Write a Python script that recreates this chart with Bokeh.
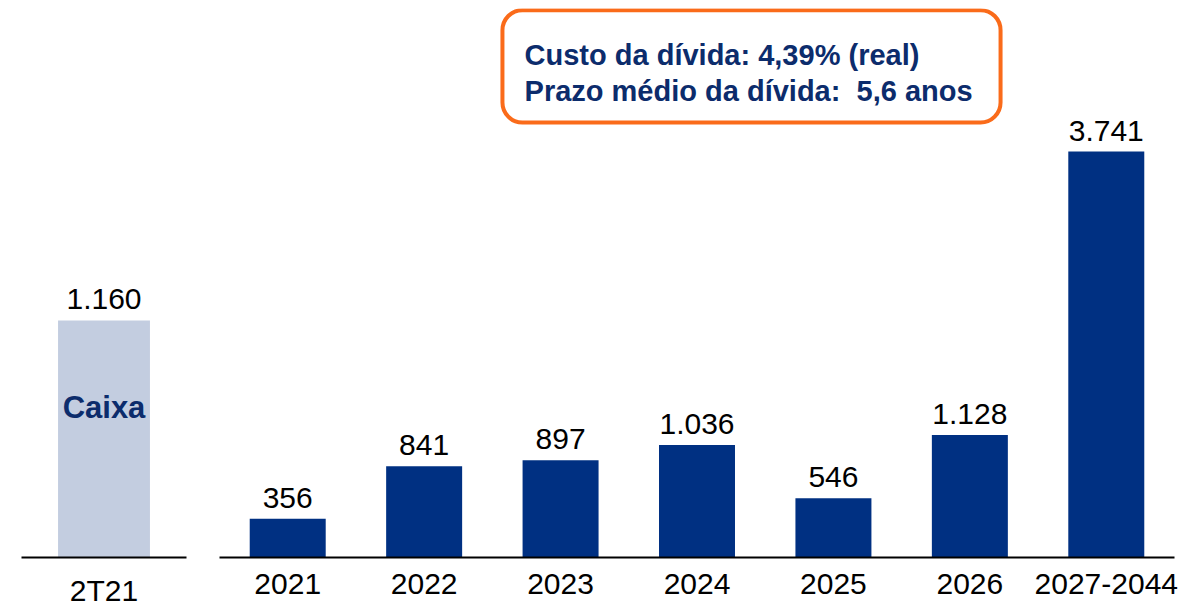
from bokeh.plotting import figure
from bokeh.models import ColumnDataSource, FactorRange, Range1d, LabelSet, Label, BoxAnnotation
from bokeh.layouts import row
from bokeh.core.properties import value
from bokeh.embed import file_html
from bokeh.resources import INLINE

# ---- data ----
cash_categories = ["2T21"]
cash_values = [1160]
cash_labels = ["1.160"]

debt_categories = ["2021", "2022", "2023", "2024", "2025", "2026", "2027-2044"]
debt_values = [356, 841, 897, 1036, 546, 1128, 3741]
debt_labels = ["356", "841", "897", "1.036", "546", "1.128", "3.741"]

box_lines = ["Custo da dívida: 4,39% (real)", "Prazo médio da dívida: \u00a05,6 anos"]
cash_note = "Caixa"

DARK = "#003082"
LIGHT = "#C3CDE0"
NAVY_TEXT = "#0C2C6C"
ORANGE = "#FA6B1A"
FONT = "Liberation Sans"


def style(p):
    p.xgrid.grid_line_color = None
    p.ygrid.grid_line_color = None
    p.outline_line_color = None
    p.background_fill_color = "white"
    p.border_fill_color = "white"
    ax = p.xaxis[0]
    ax.axis_line_color = "black"
    ax.axis_line_width = 2
    ax.major_tick_line_color = None
    ax.minor_tick_line_color = None
    ax.major_tick_out = 0
    ax.major_tick_in = 0
    ax.major_label_text_font = FONT
    ax.major_label_text_font_size = "30px"
    ax.major_label_text_color = "black"
    ax.major_label_standoff = 16


# ---- left panel: cash ----
src1 = ColumnDataSource(dict(x=cash_categories, top=cash_values, lab=cash_labels))
p1 = figure(x_range=FactorRange(*cash_categories, range_padding=0),
            y_range=Range1d(0, 2687),
            width=200, height=615, output_backend="svg", toolbar_location=None,
            y_axis_location=None, min_border_left=21, min_border_right=14,
            min_border_top=8, min_border_bottom=58)
p1.vbar(x="x", top="top", width=0.557, source=src1, fill_color=LIGHT, line_color=None)
p1.add_layout(LabelSet(x="x", y="top", text="lab", source=src1, y_offset=11,
                       text_align="center", text_baseline="alphabetic",
                       text_font=value(FONT), text_font_size="30px", text_color="black"))
p1.add_layout(Label(x=0.5, y=cash_values[0] * 0.633, text=cash_note, text_align="center",
                    text_baseline="middle", text_font=FONT, text_font_style="bold",
                    text_font_size="31px", text_color=NAVY_TEXT))
style(p1)

# ---- right panel: debt amortization ----
src2 = ColumnDataSource(dict(x=debt_categories, top=debt_values, lab=debt_labels))
p2 = figure(x_range=FactorRange(*debt_categories, range_padding=0),
            y_range=Range1d(0, 5060),
            width=998, height=615, output_backend="svg", toolbar_location=None,
            y_axis_location=None, min_border_left=19, min_border_right=24,
            min_border_top=8, min_border_bottom=58)
p2.vbar(x="x", top="top", width=0.557, source=src2, fill_color=DARK, line_color=None)
p2.add_layout(LabelSet(x="x", y="top", text="lab", source=src2, y_offset=11,
                       text_align="center", text_baseline="alphabetic",
                       text_font=value(FONT), text_font_size="30px", text_color="black"))

box = BoxAnnotation(left=2.074, right=5.725, top=5045, bottom=4009,
                    fill_color="white", fill_alpha=1.0,
                    line_color=ORANGE, line_width=4, line_alpha=1.0,
                    border_radius=20)
p2.add_layout(box)
for txt, yy in zip(box_lines, [4627, 4304]):
    p2.add_layout(Label(x=2.236, y=yy, text=txt, text_align="left",
                        text_baseline="alphabetic", text_font=FONT,
                        text_font_style="bold", text_font_size="29px",
                        text_color=NAVY_TEXT))
style(p2)

layout = row(p1, p2)
open("out.html", "w").write(file_html(layout, INLINE))
